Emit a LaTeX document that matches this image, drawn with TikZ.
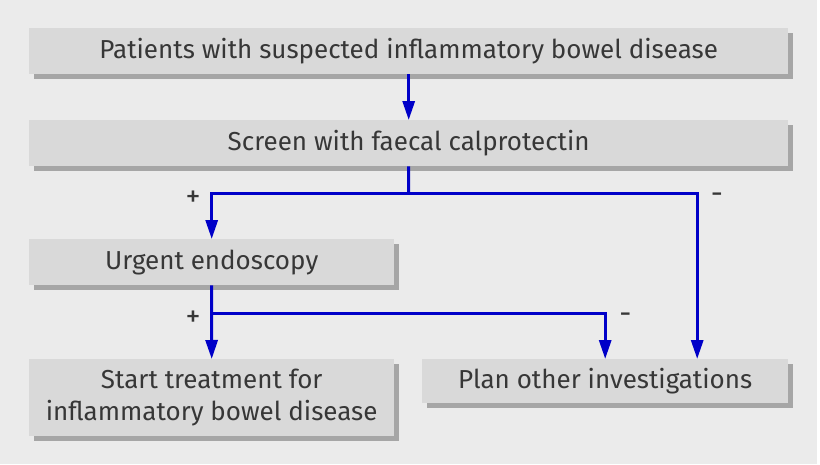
\documentclass[tikz,border=0pt]{standalone}
\usepackage{fontspec}
\setmainfont{Fira Sans}
\usetikzlibrary{arrows.meta}
\definecolor{bggray}{RGB}{235,235,235}
\definecolor{boxgray}{RGB}{217,217,217}
\definecolor{shadowgray}{RGB}{166,166,166}
\definecolor{txtgray}{RGB}{55,55,55}
\definecolor{arrblue}{RGB}{0,0,200}
\tikzset{
  box/.style={rectangle, fill=boxgray, anchor=north west, inner sep=0pt,
    align=center, text=txtgray, font=\fontsize{26}{32}\selectfont,
    preaction={fill=shadowgray, transform canvas={shift={(5pt,-5pt)}}}},
  conn/.style={draw=arrblue, line width=3pt},
  arr/.style={conn, -{Triangle[length=19pt,width=12pt]}},
  sign/.style={text=txtgray, font=\fontsize{30}{34}\selectfont, inner sep=0pt}
}
\begin{document}
\begin{tikzpicture}[x=1pt,y=-1pt]
\useasboundingbox (0,0) rectangle (820,464);
\fill[white] (0,0) rectangle (820,464);
\fill[bggray] (0,0) rectangle (817,464);
\node[box, minimum width=759pt, minimum height=46pt] (p) at (29,28) {Patients with suspected inflammatory bowel disease};
\node[box, minimum width=759pt, minimum height=46pt] (s) at (29,120) {Screen with faecal calprotectin};
\node[box, minimum width=365pt, minimum height=46pt] (u) at (29,239) {Urgent endoscopy};
\node[box, minimum width=365pt, minimum height=77pt] (t) at (29,359) {Start treatment for\\inflammatory bowel disease};
\node[box, minimum width=366pt, minimum height=44pt] (o) at (422,359) {Plan other investigations};
\coordinate (j1) at (408.5,193);
\coordinate (j2) at (211.5,313);
\draw[arr] (p) -- (s);
\draw[conn] (s.south) -- (j1);
\draw[arr] (j1) -| (u.north);
\draw[arr] (j1) -| ([xshift=92pt]o.north);
\draw[conn] (u.south) -- (j2);
\draw[arr] (j2) -- (t.north);
\draw[arr] (j2) -| (o.north);
\node[sign] (l1) at (193,199) {+};
\node[sign] (l2) at (717,198) {-};
\node[sign] (l3) at (193,319) {+};
\node[sign] (l4) at (625.5,318) {-};
\end{tikzpicture}
\end{document}
